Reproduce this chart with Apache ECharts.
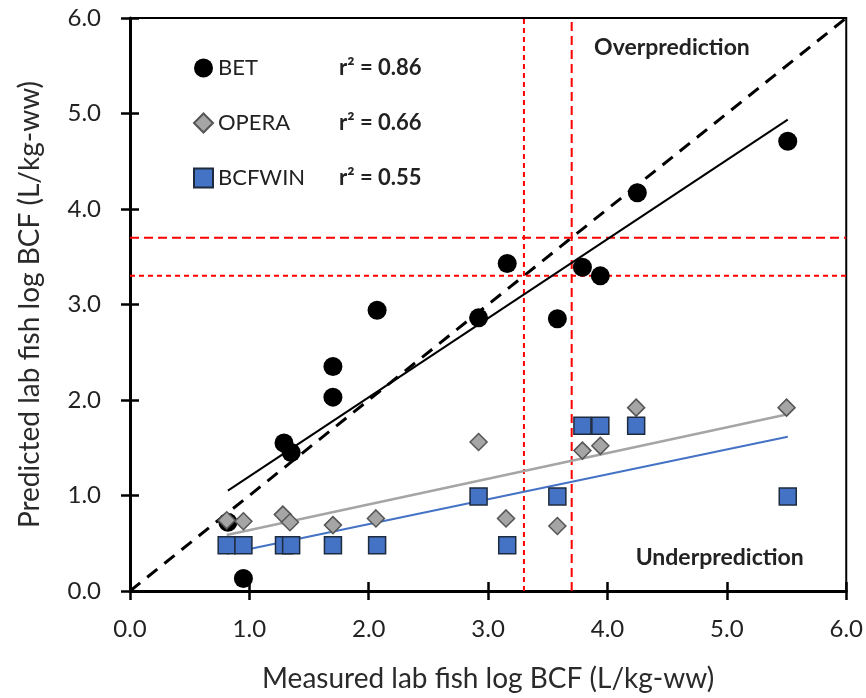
<!DOCTYPE html>
<html>
<head>
<meta charset="utf-8">
<script src="https://cdn.jsdelivr.net/npm/echarts@6/dist/echarts.min.js"></script>
<style>html,body{margin:0;padding:0;background:#fff}#c{width:866px;height:698px}</style>
</head>
<body>
<div id="c"></div>
<script>
// ---- data ----
const seriesNames = ['BET', 'OPERA', 'BCFWIN'];
const r2Values = ['0.86', '0.66', '0.55'];

const betX = [0.82, 0.95, 1.29, 1.35, 1.70, 1.70, 2.07, 2.92, 3.16, 3.58, 3.79, 3.94, 4.25, 5.51];
const betY = [0.72, 0.13, 1.55, 1.45, 2.35, 2.03, 2.94, 2.86, 3.43, 2.85, 3.39, 3.30, 4.17, 4.71];

const operaX = [0.81, 0.95, 1.28, 1.34, 1.70, 2.06, 2.92, 3.15, 3.58, 3.79, 3.94, 4.24, 5.50];
const operaY = [0.74, 0.73, 0.80, 0.72, 0.69, 0.76, 1.56, 0.76, 0.68, 1.47, 1.52, 1.92, 1.92];

const bcfwinX = [0.81, 0.95, 1.29, 1.35, 1.70, 2.07, 2.92, 3.16, 3.58, 3.79, 3.94, 4.24, 5.51];
const bcfwinY = [0.48, 0.48, 0.48, 0.48, 0.48, 0.48, 0.99, 0.48, 0.99, 1.73, 1.73, 1.73, 0.99];

const identityRange = [0, 6];
const thresholds = [3.3, 3.7];
const axisTicks = [0, 1, 2, 3, 4, 5, 6];
const regionLabels = ['Overprediction', 'Underprediction'];
const regionLabelPos = [[4.54, 5.69], [4.94, 0.35]];

// ---- helpers ----
function pairs(xs, ys) { return xs.map((x, i) => [x, ys[i]]); }
function fit(xs, ys) {
  const n = xs.length;
  const mx = xs.reduce((a, b) => a + b, 0) / n;
  const my = ys.reduce((a, b) => a + b, 0) / n;
  let sxy = 0, sxx = 0;
  for (let i = 0; i < n; i++) { sxy += (xs[i] - mx) * (ys[i] - my); sxx += (xs[i] - mx) ** 2; }
  const b = sxy / sxx, a = my - b * mx;
  const lo = Math.min(...xs), hi = Math.max(...xs);
  return [[lo, a + b * lo], [hi, a + b * hi]];
}

const FONT = 'Lato';
const TXT = '#222';
const chart = echarts.init(document.getElementById('c'), null, { renderer: 'canvas' });

const axMin = axisTicks[0], axMax = axisTicks[axisTicks.length - 1];
function mainAxis(isX, name) {
  return {
    type: 'value', min: axMin, max: axMax, interval: 1,
    position: isX ? 'bottom' : 'left',
    name: name, nameLocation: 'middle', nameGap: isX ? 74 : 86,
    nameTextStyle: { fontFamily: FONT, fontSize: 28, color: '#2a2a2a' },
    axisLine: { show: true, onZero: false, lineStyle: { color: '#000', width: 3 } },
    axisTick: { show: true, inside: false, length: 9, lineStyle: { color: '#000', width: 2.5 } },
    axisLabel: { fontFamily: FONT, fontSize: 24, color: TXT, margin: isX ? 26 : 29, formatter: v => v.toFixed(1) },
    splitLine: { show: false }
  };
}
function innerAxis(isX) {
  return {
    type: 'value', min: axMin, max: axMax, interval: 1,
    position: isX ? 'bottom' : 'left',
    axisLine: { show: false, onZero: false },
    axisTick: { show: true, inside: true, length: 9, lineStyle: { color: '#000', width: 2.5 } },
    axisLabel: { show: false }, splitLine: { show: false }
  };
}

const series = [];
series.push({
  type: 'line', silent: true, symbol: 'none', z: 2,
  data: [[identityRange[0], identityRange[0]], [identityRange[1], identityRange[1]]],
  lineStyle: { color: '#000', width: 3, type: [13, 9] }
});
thresholds.forEach((t, i) => {
  const dash = i === 0 ? [5, 4] : [9, 5];
  series.push({ type: 'line', silent: true, symbol: 'none', z: 3,
    data: [[t, axMin], [t, axMax]], lineStyle: { color: '#ff0000', width: 2, type: dash } });
  series.push({ type: 'line', silent: true, symbol: 'none', z: 3,
    data: [[axMin, t], [axMax, t]], lineStyle: { color: '#ff0000', width: 2, type: dash } });
});
const trendColors = ['#000000', '#a5a5a5', '#4472c4'];
const xsAll = [betX, operaX, bcfwinX], ysAll = [betY, operaY, bcfwinY];
xsAll.forEach((xs, i) => {
  series.push({ type: 'line', silent: true, symbol: 'none', z: 4,
    data: fit(xs, ysAll[i]), lineStyle: { color: trendColors[i], width: i === 1 ? 2.5 : 2 } });
});
series.push({
  name: seriesNames[0], type: 'scatter', z: 5, symbol: 'circle', symbolSize: 19,
  data: pairs(betX, betY), itemStyle: { color: '#000', opacity: 1 }
});
series.push({
  name: seriesNames[1], type: 'scatter', z: 6, symbol: 'diamond', symbolSize: [17, 17],
  data: pairs(operaX, operaY),
  itemStyle: { color: '#a5a5a5', borderColor: '#555', borderWidth: 1.5, opacity: 1 }
});
series.push({
  name: seriesNames[2], type: 'scatter', z: 7, symbol: 'rect', symbolSize: 17,
  data: pairs(bcfwinX, bcfwinY),
  itemStyle: { color: '#4472c4', borderColor: '#1e2a3d', borderWidth: 1.5, opacity: 1 }
});
// region labels via invisible scatter points at data coordinates
series.push({
  type: 'scatter', silent: true, symbolSize: 0, z: 8,
  itemStyle: { color: '#222', opacity: 1 },
  data: regionLabels.map((t, i) => ({ value: regionLabelPos[i], label: { formatter: t } })),
  label: { show: true, position: 'inside', fontFamily: FONT, fontSize: 23, fontWeight: 'bold',
           color: TXT, textBorderWidth: 0, textBorderColor: 'transparent', opacity: 1 }
});

chart.setOption({
  animation: false,
  backgroundColor: '#fff',
  grid: { left: 130, right: 19, top: 18, bottom: 104, show: true, borderColor: '#000', borderWidth: 2, backgroundColor: 'transparent' },
  xAxis: [mainAxis(true, 'Measured lab fish log BCF (L/kg-ww)'), innerAxis(true)],
  yAxis: [mainAxis(false, 'Predicted lab fish log BCF (L/kg-ww)'), innerAxis(false)],
  legend: {
    data: seriesNames, orient: 'vertical', left: 188, top: 52,
    itemWidth: 19, itemHeight: 19, itemGap: 33,
    formatter: function (name) {
      const i = seriesNames.indexOf(name);
      return '{n|' + name + '}{r|r² = ' + r2Values[i] + '}';
    },
    textStyle: {
      fontFamily: FONT, color: TXT, fontSize: 22, lineHeight: 22,
      rich: {
        n: { fontFamily: FONT, fontSize: 22, lineHeight: 22, color: TXT, width: 121 },
        r: { fontFamily: FONT, fontSize: 22, lineHeight: 22, fontWeight: 'bold', color: TXT }
      }
    }
  },
  series: series
});
</script>
</body>
</html>
